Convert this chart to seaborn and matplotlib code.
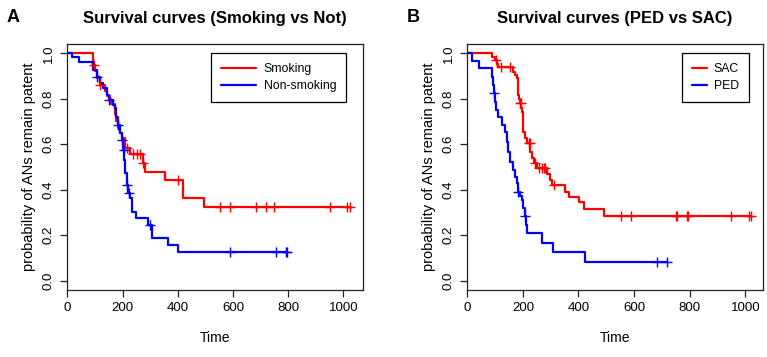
import numpy as np
import pandas as pd
import matplotlib
matplotlib.use("Agg")
import matplotlib.pyplot as plt
import seaborn as sns

# panel A: smoking vs non-smoking (event times and survival after each event)
smoke_t = [94, 100, 106, 118, 136, 142, 154, 160, 172, 178, 184, 190, 197, 209, 227, 273, 283, 353, 419, 494]
smoke_s = [0.95, 0.92, 0.89, 0.862, 0.833, 0.811, 0.797, 0.775, 0.731, 0.701, 0.672, 0.65, 0.628, 0.583, 0.555,
           0.516, 0.479, 0.443, 0.365, 0.322]
smoke_cens = [98, 118, 215, 239, 251, 263, 275, 401, 552, 590, 685, 721, 747, 952, 1012, 1024]

nonsmoke_t = [18, 42, 94, 106, 118, 130, 142, 151, 166, 172, 178, 184, 190, 197, 203, 206, 209, 215, 220, 227,
              233, 249, 291, 305, 365, 401]
nonsmoke_s = [0.982, 0.963, 0.927, 0.897, 0.868, 0.846, 0.817, 0.795, 0.773, 0.758, 0.721, 0.685, 0.648, 0.619,
              0.575, 0.531, 0.472, 0.42, 0.384, 0.363, 0.303, 0.274, 0.245, 0.186, 0.157, 0.127]
nonsmoke_cens = [106, 151, 184, 197, 204, 215, 222, 299, 590, 755, 791, 797]

# panel B: SAC vs PED
sac_t = [90, 100, 108, 112, 166, 172, 178, 182, 184, 186, 188, 194, 197, 200, 202, 209, 215, 227, 233, 239,
         251, 285, 299, 305, 353, 365, 401, 419, 492]
sac_s = [0.985, 0.97, 0.955, 0.941, 0.919, 0.905, 0.89, 0.86, 0.817, 0.8, 0.78, 0.76, 0.743, 0.7, 0.655,
         0.626, 0.604, 0.567, 0.538, 0.516, 0.494, 0.468, 0.443, 0.42, 0.391, 0.369, 0.347, 0.314, 0.284]
sac_cens = [104, 120, 154, 190, 192, 221, 224, 245, 257, 269, 275, 280, 311, 552, 588, 751, 754, 789, 795,
            949, 1013, 1022]

ped_t = [18, 42, 90, 93, 96, 100, 104, 112, 124, 136, 142, 148, 154, 166, 172, 178, 184, 190, 197, 202, 209,
         212, 215, 269, 307, 422]
ped_s = [0.967, 0.934, 0.895, 0.86, 0.824, 0.786, 0.75, 0.721, 0.685, 0.655, 0.611, 0.567, 0.523, 0.487,
         0.457, 0.428, 0.391, 0.373, 0.355, 0.318, 0.284, 0.245, 0.208, 0.164, 0.124, 0.083]
ped_cens = [96, 184, 209, 682, 718]

sns.set_style("white")
plt.rcParams['font.family'] = ['Liberation Sans', 'DejaVu Sans']
plt.rcParams['text.color'] = 'black'
plt.rcParams['axes.labelcolor'] = 'black'
plt.rcParams['xtick.color'] = 'black'
plt.rcParams['ytick.color'] = 'black'

W, H = 767, 357
fig = plt.figure(figsize=(W / 100, H / 100), dpi=100)


def km_frame(t, s, cens):
    last = max(max(t), max(cens))
    x = [0] + list(t) + [last]
    y = [1.0] + list(s) + [s[-1]]
    line = pd.DataFrame({"time": x, "surv": y})
    # survival level at each censoring time
    idx = np.searchsorted(np.array(t), np.array(cens), side="right") - 1
    lev = np.where(idx >= 0, np.array(s)[np.clip(idx, 0, None)], 1.0)
    marks = pd.DataFrame({"time": cens, "surv": lev})
    return line, marks


def panel(left_px, curves, title, letter, legend_anchor, xmax, hlen):
    ax = fig.add_axes([left_px / W, (H - 289.7) / H, 295.5 / W, (289.7 - 44.2) / H])
    for (t, s, cens, color, name) in curves:
        line, marks = km_frame(t, s, cens)
        sns.lineplot(data=line, x="time", y="surv", ax=ax, color=color, lw=1.6,
                     drawstyle="steps-post", estimator=None, sort=False, label=name)
        sns.scatterplot(data=marks, x="time", y="surv", ax=ax, color=color, marker="+",
                        s=55, linewidth=1.0, legend=False, zorder=3)
    ax.set_xlim(0, xmax)
    ax.set_ylim(-0.04, 1.04)
    ax.set_xticks([0, 200, 400, 600, 800, 1000])
    ax.set_yticks([0.0, 0.2, 0.4, 0.6, 0.8, 1.0])
    ax.set_yticklabels(["0.0", "0.2", "0.4", "0.6", "0.8", "1.0"], rotation=90, va="center")
    ax.tick_params(direction="out", length=5, width=0.9, labelsize=9.5, pad=4, color="#222222",
                   bottom=True, left=True)
    for sp in ax.spines.values():
        sp.set_color("#222222")
        sp.set_linewidth(0.9)
    ax.set_xlabel("Time", fontsize=10, labelpad=12)
    ax.set_ylabel("probability of ANs remain patent", fontsize=10.5, labelpad=5)
    leg = ax.legend(loc="upper right", bbox_to_anchor=legend_anchor, borderaxespad=0, fancybox=False,
                    edgecolor="black", framealpha=1, fontsize=8.8, handlelength=hlen, handletextpad=0.6,
                    borderpad=0.8, labelspacing=0.4)
    leg.get_frame().set_linewidth(0.9)
    for h in leg.get_lines():
        h.set_linewidth(1.6)
    fig.text((left_px + 147.7) / W, 1 - 18 / H, title, ha="center", va="center",
             fontsize=12, fontweight="bold")
    fig.text((left_px - 54) / W, 1 - 18 / H, letter, ha="center", va="center",
             fontsize=13, fontweight="bold")
    return ax


panel(67.3, [(smoke_t, smoke_s, smoke_cens, "#ff0000", "Smoking"),
             (nonsmoke_t, nonsmoke_s, nonsmoke_cens, "#0000ff", "Non-smoking")],
      "Survival curves (Smoking vs Not)", "A", (0.943, 0.963), 1070, 2.9)
panel(467.3, [(sac_t, sac_s, sac_cens, "#ff0000", "SAC"),
              (ped_t, ped_s, ped_cens, "#0000ff", "PED")],
      "Survival curves (PED vs SAC)", "B", (0.953, 0.963), 1063, 1.2)

fig.savefig("out.png", dpi=100)
